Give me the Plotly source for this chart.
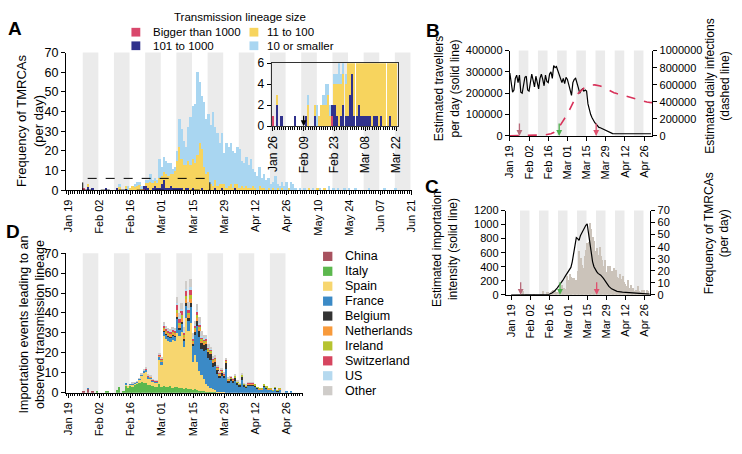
import pandas as pd
import plotly.graph_objects as go

W, H = 742, 454
FONT = "Liberation Sans, Arial, sans-serif"
START = pd.Timestamp("2020-01-19")
DAY = pd.Timedelta(days=1)

# ---- panel A: TMRCAs per day by transmission lineage size (daily from Jan 19)
size_gt1000 = [
    0, 0, 0, 0, 0, 0, 0,  1, 0, 0, 0, 0, 0, 0,  0, 0, 0, 0, 0, 0, 0,
    0, 0, 0, 0, 0, 0, 0,  0, 0, 0, 0, 0, 0, 1,
]
size_101_1000 = [
    0, 0, 0, 0, 0, 0, 0,  0, 0, 2, 0, 1, 0, 0,  0, 0, 0, 1, 0, 0, 0,
    0, 1, 0, 0, 0, 1, 0,  0, 0, 0, 0, 0, 0, 1,  2, 1, 0, 1, 2, 1, 1,
    3, 5, 1, 1, 2, 1, 1,  1, 1, 1, 0, 1, 1, 0,  1, 0, 0, 0, 1, 0, 0,
    0, 0, 0, 1, 0, 0, 1,  0, 0, 0, 0, 0, 1, 0,
]
size_11_100 = [
    0, 0, 0, 0, 0, 0, 0,  0, 0, 1, 0, 0, 0, 0,  0, 0, 0, 0, 0, 0, 0,
    0, 0, 2, 0, 0, 1, 0,  1, 2, 2, 2, 3, 1, 0,  2, 3, 4, 3, 3, 3, 5,
    4, 4, 7, 6, 6, 7, 9,  14, 21, 15, 13, 12, 14, 13,  15, 14, 18, 24, 20, 12, 8,
    9, 3, 2, 4, 2, 3, 2,  3, 1, 2, 3, 1, 2, 3,  1, 2, 1, 2, 1, 1, 2,
    1, 0, 2, 1, 1, 0, 1,  0, 1, 0, 1, 0, 1, 0,  0, 1, 0, 0, 0, 0, 0,
    0, 0, 0, 1, 0, 0, 0,  1, 0, 0, 1, 0, 0, 0,
]
size_le10 = [
    0, 0, 0, 0, 0, 0, 0,  0, 0, 0, 0, 0, 0, 0,  0, 0, 0, 0, 0, 0, 0,
    0, 0, 1, 0, 0, 0, 2,  0, 0, 1, 2, 1, 1, 0,  1, 1, 4, 1, 1, 1, 10,
    5, 8, 7, 7, 6, 3, 2,  5, 14, 15, 12, 9, 17, 24,  27, 30, 42, 31, 27, 33, 28,
    30, 30, 38, 27, 27, 21, 26,  16, 23, 20, 21, 19, 16, 19,  20, 13, 13, 15, 12, 15, 9,
    8, 7, 10, 5, 7, 5, 5,  3, 3, 7, 2, 2, 3, 2,  4, 0, 4, 3, 1, 0, 1,
    0, 1, 0, 0, 0, 1, 0,  0, 1, 0, 0, 0, 2, 0,  1, 0, 1, 0, 0, 1, 0,
    1, 0, 0, 1, 0, 0, 0,  0, 0, 1, 0, 0, 0, 0,  0, 0, 1, 0, 0, 0, 0,
    1, 0, 0, 0, 0, 0, 0,
]

# ---- panel B: travellers per day (thousands, daily) and infections (thousands, every 2 days)
travellers_k = [
    295, 240, 205, 215, 270, 285, 250,  285, 205, 200, 245, 275, 280, 215,
    210, 255, 290, 260, 230, 280, 245,  220, 270, 290, 265, 235, 285, 255,
    250, 290, 300, 270, 330, 320, 325,  305, 290, 260, 250, 270, 245, 275,
    265, 240, 215, 190, 250, 265, 270,  240, 225, 200, 215, 220, 210, 215,
    210, 150, 120, 100, 85, 72, 62,  55, 45, 40, 38, 35, 32, 28,
    25, 22, 18, 14, 12, 11, 10,  10, 10, 9, 10, 10, 9, 10,
    10, 10, 10, 9, 10, 10, 10,  10, 9, 10, 10, 10, 9, 10,
    10, 10, 10, 9, 10, 10,
]
infection_days = list(range(0, 105, 2))
infections_k = [
    2, 2, 2, 3, 3, 4, 5, 5, 6, 7, 8, 9, 10, 13, 18, 25, 40, 65, 105, 150,
    200, 255, 320, 390, 450, 500, 535, 560, 578, 590, 596, 598, 595, 586, 572,
    555, 537, 520, 507, 497, 488, 480, 472, 462, 452, 442, 430, 420, 411, 403,
    397, 393, 390,
]

# ---- panel C: estimated importation intensity
intensity_days = [0, 4, 8, 12, 16, 20, 24, 26, 28, 30, 32, 34, 36, 38, 40, 42, 44, 45,
                  46, 47, 48, 49, 50, 51, 52, 53, 54, 55, 56, 57, 58, 59, 60, 61, 62,
                  63, 64, 66, 68, 70, 72, 74, 76, 78, 82, 86, 90, 94, 98, 102]
intensity = [0, 0, 0, 0, 0, 0, 0, 2, 8, 25, 55, 100, 150, 205, 270, 340, 390, 470,
             600, 740, 815, 800, 775, 840, 880, 905, 950, 990, 1010, 880, 700, 600, 470,
             400, 360, 330, 305, 280, 235, 175, 120, 85, 62, 50, 40, 32, 25, 20, 14, 10]

# ---- panel D: importation events by source country (daily from Jan 19)
imp_china = [0, 0, 0, 0, 0, 0, 0,  0.6, 0, 1.8, 0, 0.5, 0, 0]
imp_italy = [
    0, 0, 0, 0, 0, 0, 0,  0, 0, 0, 0, 0, 0, 0.5,  0, 0, 0, 0.4, 0.5, 0, 0,
    0, 1.5, 2.8, 0, 0.8, 3.5, 2.5,  3.5, 3, 4, 4.5, 5, 5.5, 5,  5, 4, 4, 3.5, 3, 3, 4.5,
    3, 3.5, 3, 3, 3.5, 2.5, 3,  3, 2.5, 2.5, 2, 2.5, 2, 2,  1.5, 2, 1.5, 1, 1, 1, 0.5,
    0.5, 0.5, 0.3, 0.3, 0, 0, 0,
]
imp_spain = [
    0, 0, 0, 0, 0, 0, 0,  0, 0, 0, 0, 0, 0, 0,  0, 0, 0, 0, 0, 0, 0,
    0, 0, 0, 0, 0, 0.5, 1,  0.3, 1, 0.5, 0.5, 1.5, 3, 5,  5.5, 3, 3, 2, 2, 2, 12,
    11, 25, 24, 23, 22, 24, 23,  27, 26, 28, 21, 35, 29, 33,  14, 17, 14, 10, 8, 6, 4,
    3, 2, 1.5, 1, 0.5, 0.3, 0.3,  0.2,
]
imp_france = [
    0, 0, 0, 0, 0, 0, 0,  0, 0, 0.4, 0, 0, 0, 0,  0, 0, 0, 0, 0, 0, 0,
    0, 0, 0, 0, 0, 0.3, 0,  0.3, 0.5, 0.3, 0.3, 0.5, 0.8, 1,  1, 1, 0.8, 0.5, 0.5, 0.5, 1.5,
    1.5, 2, 2, 2, 2, 2, 2,  7, 3, 4, 3, 6, 5, 8,  8, 10, 18, 17, 13, 14, 17,
    14, 14, 11, 12, 9, 7, 8,  7, 12, 5, 6, 5, 6, 4,  3, 6.5, 3, 2.5, 3.5, 3.5, 3.5,
    3, 2, 1.5, 1.5, 3, 2, 1.5,  1.5, 0.8, 2, 0.7, 1.5, 0, 0,  0.3, 0, 0.3, 0, 0, 0, 0,
]
imp_belgium = [
    0, 0, 0, 0, 0, 0, 0,  0, 0, 0, 0, 0, 0, 0,  0, 0, 0, 0, 0, 0, 0,
    0, 0, 0, 0, 0, 0, 0,  0, 0, 0, 0, 0, 0, 0,  0, 0, 0, 0, 0, 0, 0,
    0.3, 0.5, 0.5, 0.5, 0.5, 0.5, 0.5,  1, 1, 1, 1, 1.5, 1.5, 2,  1, 1.5, 2.5, 3, 3, 3, 3,
    3, 3, 2.5, 2.5, 2, 1.5, 2,  1.5, 3, 1.2, 1, 1, 1.5, 0.8,  0.8, 1.5, 0.8, 0.5, 0.6, 0.6, 0.6,
    0.4, 0.4, 0.2, 0.2, 0.4, 0.4, 0.2,  0.2, 0.1, 0.3, 0.1, 0.2, 0, 0,
]
imp_netherlands = [
    0, 0, 0, 0, 0, 0, 0,  0, 0, 0, 0, 0, 0, 0,  0, 0, 0, 0, 0, 0, 0,
    0, 0, 0, 0, 0, 0, 0,  0, 0, 0, 0, 0, 0, 0,  0.2, 0.2, 0.2, 0.2, 0.2, 0.2, 0.5,
    0.5, 1, 1, 1, 1, 1, 1,  2, 1.5, 2, 1, 2, 1.5, 2,  1, 1, 1.5, 1, 1, 1, 1,
    0.8, 0.7, 0.6, 0.6, 0.5, 0.4, 0.4,  0.3, 0.5, 0.3, 0.3, 0.3, 0.3, 0.2,  0.2, 0.3, 0.2, 0.2, 0.2, 0.2, 0.2,
    0.2, 0.1, 0.1, 0.1, 0.2, 0.1, 0.1,  0.1, 0, 0.1, 0, 0.1, 0, 0,
]
imp_ireland = [
    0, 0, 0, 0, 0, 0, 0,  0, 0, 0, 0, 0, 0, 0,  0, 0, 0, 0, 0, 0, 0,
    0, 0, 0, 0, 0, 0, 0,  0, 0, 0, 0, 0, 0, 0,  0, 0, 0, 0, 0, 0, 0,
    0.2, 0.5, 0.5, 0.5, 0.5, 0.5, 0.5,  1.5, 1, 1.5, 0.8, 1.5, 1.2, 2,  0.8, 1, 1.5, 1, 1, 1, 0.8,
    0.8, 0.8, 0.6, 0.6, 0.5, 0.4, 0.4,  0.3, 0.6, 0.4, 0.4, 0.4, 0.6, 0.3,  0.3, 0.6, 0.3, 0.3, 0.4, 0.4, 0.4,
    0.3, 0.2, 0.2, 0.2, 0.3, 0.3, 0.2,  0.2, 0.1, 0.2, 0.1, 0.2, 0, 0,
]
imp_switzerland = [
    0, 0, 0, 0, 0, 0, 0,  0, 0, 0, 0, 0, 0, 0,  0, 0, 0, 0, 0, 0, 0,
    0, 0, 0, 0, 0, 0, 0,  0, 0, 0, 0, 0, 0, 0,  0.2, 0.3, 0.3, 0.2, 0.2, 0.2, 0.5,
    0.5, 1, 1, 1, 1, 1, 1,  2.5, 2, 2, 1.2, 2.5, 1.5, 2.5,  1, 1.2, 1.5, 1, 0.8, 0.8, 0.8,
    0.6, 0.5, 0.5, 0.4, 0.4, 0.3, 0.3,  0.2, 0.3, 0.2, 0.2, 0.2, 0.2, 0.2,  0.2, 0.2, 0.1, 0.1, 0.1, 0.1, 0.1,
]
imp_us = [
    0, 0, 0, 0, 0, 0, 0,  0, 0, 0, 0, 0, 0, 0,  0, 0, 0, 0, 0, 0, 0,
    0, 0, 0, 0, 0, 0, 0,  0, 0, 0, 0, 0, 0, 0,  0, 0, 0, 0, 0, 0, 0,
    0.2, 0.5, 0.5, 0.5, 0.5, 0.5, 0.5,  1, 1, 1, 0.8, 1, 1, 1.5,  0.8, 0.8, 1, 0.8, 0.6, 0.6, 0.6,
    0.4, 0.4, 0.3, 0.3, 0.3, 0.3, 0.2,  0.2, 0.2, 0.1, 0.1, 0.1, 0.1, 0.1,
]
imp_other = [
    0, 0, 0, 0, 0, 0, 0,  0, 0, 0, 0, 0, 0, 0,  0, 0, 0, 0, 0, 0, 0,
    0, 0, 0, 0, 0, 0, 0,  0, 0.3, 0.3, 0.3, 0.3, 0.5, 0.5,  0.5, 0.5, 0.5, 0.3, 0.3, 0.3, 0.5,
    0.5, 1.5, 1, 1, 1, 1, 1,  3, 2, 3, 2, 4, 3, 4,  2, 1.5, 3, 3, 2.5, 1.5, 1.5,
    1.5, 1, 1, 1, 0.8, 0.5, 0.5,  0.4, 0.5, 0.3, 0.3, 0.3, 0.3, 0.3,  0.2, 0.3, 0.2, 0.2, 0.2, 0.2, 0.2,
]

lineage_names = ["Bigger than 1000", "101 to 1000", "11 to 100", "10 or smaller"]
lineage_colors = ["#d9486c", "#30318c", "#f7d45e", "#a9d6f1"]
countries = ["China", "Italy", "Spain", "France", "Belgium", "Netherlands",
             "Ireland", "Switzerland", "US", "Other"]
country_colors = ["#a8525f", "#5cb84e", "#f7d66f", "#3b8ac6", "#333333",
                  "#f89a3b", "#b6c330", "#d6455f", "#b5d9ef", "#cfccc9"]
country_data = [imp_china, imp_italy, imp_spain, imp_france, imp_belgium,
                imp_netherlands, imp_ireland, imp_switzerland, imp_us, imp_other]


def dates(n):
    return [START + i * DAY for i in range(n)]


def px(x):
    return x / W


def py(y):
    return 1 - y / H


fig = go.Figure()

# A main + inset
lineage_data = [size_gt1000, size_101_1000, size_11_100, size_le10]
for name, vals, col in zip(lineage_names, lineage_data, lineage_colors):
    fig.add_trace(go.Bar(x=dates(len(vals)), y=vals, name=name, marker_color=col,
                         marker_line_width=0, xaxis="x", yaxis="y", showlegend=False))
    fig.add_trace(go.Bar(x=dates(len(vals)), y=vals, name=name, marker_color=col,
                         marker_line_width=0, xaxis="x2", yaxis="y2", showlegend=False))

# B
fig.add_trace(go.Scatter(x=dates(len(travellers_k)), y=[v * 1000 for v in travellers_k],
                         mode="lines", line=dict(color="black", width=1.2),
                         xaxis="x3", yaxis="y3", showlegend=False))
fig.add_trace(go.Scatter(x=[START + d * DAY for d in infection_days],
                         y=[v * 1000 for v in infections_k], mode="lines",
                         line=dict(color="#d8325a", width=1.6, dash="dash"),
                         xaxis="x3", yaxis="y4", showlegend=False))

# C
n_c = 104
tmrca_total = [sum(v[i] if i < len(v) else 0 for v in lineage_data) for i in range(n_c)]
fig.add_trace(go.Bar(x=dates(n_c), y=tmrca_total, marker_color="#cbc3ba", marker_line_width=0,
                     xaxis="x4", yaxis="y5", showlegend=False))
fig.add_trace(go.Scatter(x=[START + d * DAY for d in intensity_days], y=intensity,
                         mode="lines", line=dict(color="black", width=1.2),
                         xaxis="x4", yaxis="y6", showlegend=False))

# D
for name, vals, col in zip(countries, country_data, country_colors):
    fig.add_trace(go.Bar(x=dates(len(vals)), y=vals, name=name, marker_color=col,
                         marker_line_width=0, xaxis="x5", yaxis="y7", showlegend=False))

# ---- axes
tickfont = dict(family=FONT, size=12.5, color="black")
smallfont = dict(family=FONT, size=11, color="black")
datefont = dict(family=FONT, size=11, color="black")
insetfont = dict(family=FONT, size=12, color="black")
MS_DAY = 86400000
minor = dict(ticks="outside", ticklen=2.5, dtick=MS_DAY, tickcolor="black", tickwidth=0.8)


def date_axis(domain, rng, anchor, with_minor=True, **kw):
    ax = dict(domain=domain, range=rng, anchor=anchor, type="date", tick0="2020-01-19",
              dtick=14 * MS_DAY, tickformat="%b %d", tickangle=-90, ticks="outside",
              ticklen=4, tickcolor="black", showline=True, linecolor="black", linewidth=1,
              showgrid=False, zeroline=False, tickfont=datefont)
    if with_minor:
        ax["minor"] = minor
    ax.update(kw)
    return ax


def val_axis(domain, rng, dtick, anchor, font=tickfont, **kw):
    ax = dict(domain=domain, range=rng, dtick=dtick, anchor=anchor, ticks="outside",
              ticklen=4, tickcolor="black", showline=True, linecolor="black", linewidth=1,
              showgrid=False, zeroline=False, tickfont=font, tickformat="d")
    ax.update(kw)
    return ax


layout = dict(
    width=W, height=H, margin=dict(l=0, r=0, t=0, b=0),
    paper_bgcolor="white", plot_bgcolor="rgba(0,0,0,0)",
    barmode="stack", bargap=0.12, font=dict(family=FONT, color="black"),
    xaxis=date_axis([px(61), px(413)], ["2020-01-18", "2020-06-21 08:00"], "y"),
    yaxis=val_axis([py(189), py(47)], [0, 70], 10, "x"),
    xaxis2=date_axis([px(270), px(398)], ["2020-01-25 12:00", "2020-03-22 12:00"], "y2",
                     mirror=True, linecolor="#333", tick0="2020-01-26", tickfont=insetfont),
    yaxis2=val_axis([py(123), py(58)], [0, 6], 2, "x2", mirror=True, linecolor="#333",
                    tickfont=insetfont),
    xaxis3=date_axis([px(512), px(657)], ["2020-01-18 22:00", "2020-05-02"], "y3",
                     with_minor=False),
    yaxis3=val_axis([py(133), py(45)], [0, 400000], 100000, "x3", font=smallfont),
    yaxis4=val_axis([py(133), py(45)], [0, 1000000], 200000, "x3", font=smallfont,
                    overlaying="y3", side="right"),
    xaxis4=date_axis([px(508), px(655)], ["2020-01-15 01:00", "2020-04-30 14:00"], "y5",
                     with_minor=False),
    yaxis5=val_axis([py(297), py(210)], [0, 70], 10, "x4", font=smallfont, side="right"),
    yaxis6=val_axis([py(297), py(210)], [0, 1200], 200, "x4", font=smallfont,
                    overlaying="y5", side="left"),
    xaxis5=date_axis([px(61), px(302)], ["2020-01-18", "2020-05-03 10:00"], "y7"),
    yaxis7=val_axis([py(398), py(254)], [0, 70], 10, "x5"),
)
fig.update_layout(**layout)

# ---- shapes: weekly grey bands, dashed zoom box, legend swatches
shapes = []
BAND = "#ebebeb"
for xref, yref, n in [("x", "y", 11), ("x3", "y3", 7), ("x4", "y5", 7), ("x5", "y7", 7)]:
    for k in range(n):
        x0 = START + pd.Timedelta(hours=(6.5 + 14 * k) * 24)
        shapes.append(dict(type="rect", xref=xref, yref=yref + " domain", x0=x0,
                           x1=x0 + 7 * DAY, y0=0, y1=1, fillcolor=BAND, line_width=0,
                           layer="below"))
shapes.append(dict(type="rect", xref="x", yref="y", x0="2020-01-25 12:00",
                   x1="2020-03-22 12:00", y0=0, y1=6,
                   line=dict(color="black", width=1, dash="dash")))

annotations = []


def text(x, y, s, size=12.5, anchor="left", angle=0):
    annotations.append(dict(xref="paper", yref="paper", x=px(x), y=py(y), text=s,
                            showarrow=False, xanchor=anchor, yanchor="middle",
                            textangle=angle, align="center",
                            font=dict(family=FONT, size=size, color="black")))


def swatch(x, y, col, s=9):
    shapes.append(dict(type="rect", xref="paper", yref="paper", x0=px(x - s / 2),
                       x1=px(x + s / 2), y0=py(y + s / 2), y1=py(y - s / 2),
                       fillcolor=col, line_width=0))


# legend A
text(238, 10, "Transmission lineage size", 11.5, "center")
legend_pos = [(132, 26, 147), (132, 40, 147), (252, 26, 263), (252, 40, 263)]
for (sx, ly, tx), name, col in zip(legend_pos, lineage_names, lineage_colors):
    swatch(sx, ly, col)
    text(tx, ly, name, 11.5)

# legend D
for i, (name, col) in enumerate(zip(countries, country_colors)):
    ly = 257.3 + i * 15.4
    swatch(327, ly, col, 9.5)
    text(343, ly, name, 12.5)

# panel letters
for lx, ly, s in [(9, 22, "A"), (434, 24, "B"), (433, 185, "C"), (7, 232, "D")]:
    text(lx, ly, "<b>%s</b>" % s, 19, "center")

# axis titles
text(25, 118, "Frequency of TMRCAs<br>(per day)", 13, "center", -90)
text(449, 84, "Estimated travellers<br>per day (solid line)", 12, "center", -90)
text(724, 82, "Estimated daily infections<br>(dashed line)", 12, "center", -90)
text(447, 250, "Estimated importation<br>intensity (solid line)", 12, "center", -90)
text(722, 233, "Frequency of TMRCAs<br>(per day)", 12, "center", -90)
text(26, 328, "Importation events leading to an<br>observed transmission lineage", 12.5,
     "center", -90)


# arrows
def arrow(xref, yref, day, col, y=0, ay=-14):
    annotations.append(dict(xref=xref, yref=yref, x=START + pd.Timedelta(days=day), y=y,
                            ax=0, ay=ay, text="", showarrow=True, arrowhead=2,
                            arrowsize=0.9, arrowwidth=1.3, arrowcolor=col))


for xref, yref in [("x3", "y3"), ("x4", "y6")]:
    arrow(xref, yref, 7, "#b86b7b")
    arrow(xref, yref, 36, "#4cb04c")
    arrow(xref, yref, 63, "#e0506e")
arrow("x2", "y2", 17, "black", y=-0.3, ay=13)
arrow("x2", "y2", 21, "black", y=0, ay=-12)

fig.update_layout(shapes=shapes, annotations=annotations)
fig.write_html("out.html", config={"displayModeBar": False},
               post_script="document.body.style.margin='0';")
